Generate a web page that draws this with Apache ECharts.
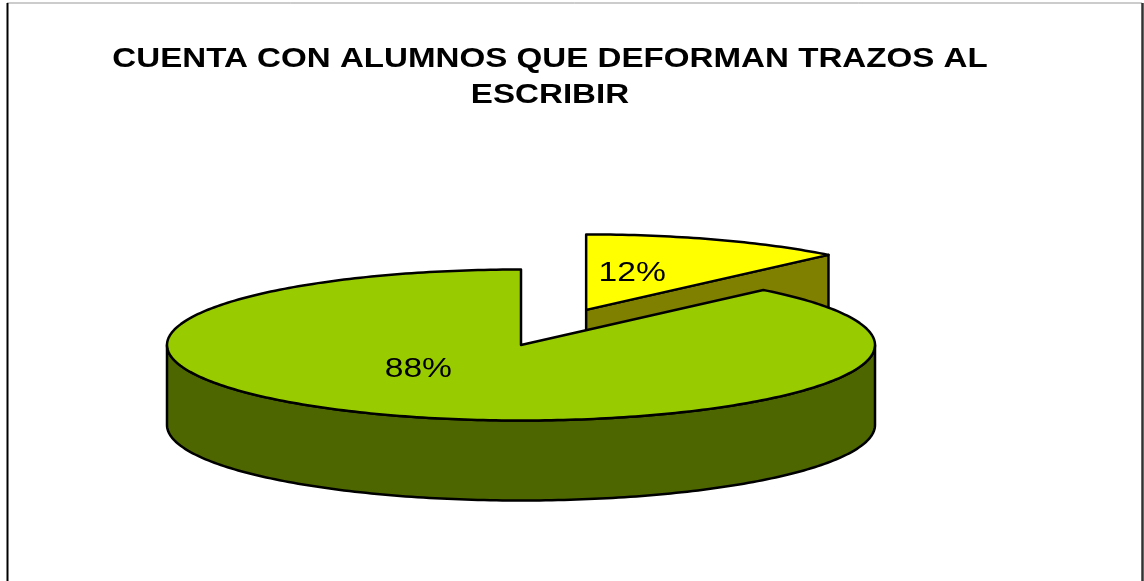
<!DOCTYPE html>
<html>
<head>
<meta charset="utf-8">
<script src="https://cdn.jsdelivr.net/npm/echarts@6/dist/echarts.min.js"></script>
<style>
    html, body { margin: 0; padding: 0; background: #fff; }
    #main { width: 1144px; height: 581px; }
</style>
</head>
<body>
<div id="main"></div>
<script>
    var categories = ['SI', 'NO'];
    var values = [12, 88];
    var topColors = ['#FFFF00', '#99CC00'];
    var sideColors = ['#808000', '#4D6600'];
    var explode = [0.5, 0];
    // label place inside each slice, as a share of the radii
    var labelShift = [[0.13, -0.49], [-0.29, 0.32]];

    var total = values.reduce(function (a, b) { return a + b; }, 0);
    var starts = [];
    var acc = 0;
    values.forEach(function (v) { starts.push(acc / total * 360); acc += v; });

    var CX = 521, CY = 345, RX = 354, RY = 75.5, DEPTH = 80;
    var SX = 1.2;  // the original picture is stretched sideways
    var RAD = Math.PI / 180;

    function pt(ox, oy, deg, r) {
        return [ox + RX * r * Math.sin(deg * RAD), oy - RY * r * Math.cos(deg * RAD)];
    }
    function arc(ox, oy, a0, a1, dy) {
        var pts = [], n = Math.max(2, Math.ceil(Math.abs(a1 - a0)));
        for (var i = 0; i <= n; i++) {
            var p = pt(ox, oy, a0 + (a1 - a0) * i / n, 1);
            pts.push([p[0], p[1] + dy]);
        }
        return pts;
    }

    function renderItem(params, api) {
        var i = params.dataIndex;
        var v = api.value(0);
        var a0 = starts[i], a1 = a0 + v / total * 360;
        var mid = (a0 + a1) / 2;
        var o = pt(CX, CY, mid, explode[i]);
        var ox = o[0], oy = o[1];
        var base = i * 10;
        var sideStyle = { fill: sideColors[i], stroke: '#000', lineWidth: 2.5, lineJoin: 'round' };
        var kids = [];

        function wall(deg) {
            var p = pt(ox, oy, deg, 1);
            return {
                type: 'polygon', z2: base,
                shape: { points: [[ox, oy], p, [p[0], p[1] + DEPTH], [ox, oy + DEPTH]] },
                style: sideStyle
            };
        }
        // cut walls, only when they face the viewer
        if (Math.sin(a0 * RAD) < -1e-6) kids.push(wall(a0));
        if (Math.sin(a1 * RAD) > 1e-6) kids.push(wall(a1));

        // front part of the rim
        var b0 = Math.max(a0, 90), b1 = Math.min(a1, 270);
        if (b1 > b0) {
            kids.push({
                type: 'polygon', z2: base + 1,
                shape: { points: arc(ox, oy, b0, b1, 0).concat(arc(ox, oy, b1, b0, DEPTH)) },
                style: sideStyle
            });
        }

        // top face
        kids.push({
            type: 'polygon', z2: base + 2,
            shape: { points: [[ox, oy]].concat(arc(ox, oy, a0, a1, 0)) },
            style: { fill: topColors[i], stroke: '#000', lineWidth: 2.5, lineJoin: 'round' }
        });

        kids.push({
            type: 'text', z2: base + 3,
            x: ox + labelShift[i][0] * RX,
            y: oy + labelShift[i][1] * RY,
            scaleX: SX,
            style: {
                text: Math.round(v / total * 100) + '%',
                font: '28px "Liberation Sans", Arial, sans-serif',
                fill: '#000', align: 'center', verticalAlign: 'middle'
            }
        });

        return { type: 'group', children: kids };
    }

    var myChart = echarts.init(document.getElementById('main'));
    var option = {
        animation: false,
        backgroundColor: '#fff',
        graphic: [
            { type: 'line', shape: { x1: 7, y1: 3, x2: 1142, y2: 3 }, style: { stroke: '#999', lineWidth: 1 } },
            { type: 'line', shape: { x1: 7.5, y1: 3, x2: 7.5, y2: 581 }, style: { stroke: '#000', lineWidth: 2 } },
            { type: 'line', shape: { x1: 1142.5, y1: 3, x2: 1142.5, y2: 581 }, style: { stroke: '#333', lineWidth: 2.5 } },
            {
                type: 'text', x: 550, y: 78, scaleX: 1.227,
                style: {
                    text: 'CUENTA CON ALUMNOS QUE DEFORMAN TRAZOS AL\nESCRIBIR',
                    font: 'bold 27px "Liberation Sans", Arial, sans-serif',
                    fill: '#000', align: 'center', verticalAlign: 'middle', lineHeight: 36
                }
            }
        ],
        series: [
            {
                type: 'custom',
                coordinateSystem: 'none',
                silent: true,
                renderItem: renderItem,
                data: values.map(function (v, i) { return { name: categories[i], value: v }; })
            }
        ]
    };
    myChart.setOption(option);
</script>
</body>
</html>
